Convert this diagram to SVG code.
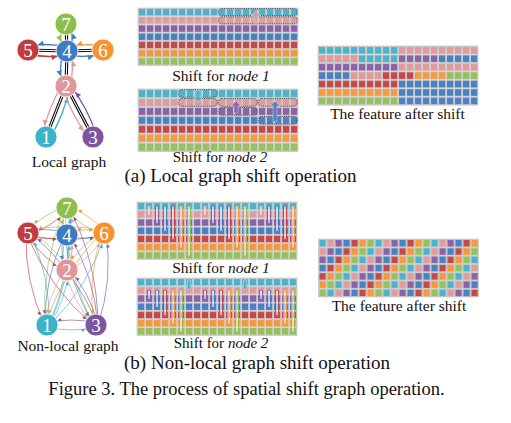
<svg xmlns="http://www.w3.org/2000/svg" xmlns:xlink="http://www.w3.org/1999/xlink" width="511" height="423" viewBox="0 0 511 423">
<style>
.bg{fill:#cdcdcd}
.c0{fill:#4ab4cc}.c1{fill:#e39a9e}.c2{fill:#8a62a8}.c3{fill:#4a80c4}.c4{fill:#c84848}.c5{fill:#f7993a}.c6{fill:#95c15a}
.f0{fill:#3cb1c8}.f1{fill:#e0979a}.f2{fill:#7c55a0}.f3{fill:#3d7cc3}.f4{fill:#c13d3d}.f5{fill:#f59332}.f6{fill:#8dbf4a}
.s0{stroke:#3cb1c8}.s1{stroke:#e0979a}.s2{stroke:#7c55a0}.s3{stroke:#3d7cc3}.s4{stroke:#c13d3d}.s5{stroke:#f59332}.s6{stroke:#8dbf4a}
.gb{fill:none;stroke:#bdbdbd;stroke-width:.6}
.dash{fill:none;stroke:#333;stroke-width:.8;stroke-dasharray:1.2 1}
.mk{fill:#fff;fill-opacity:.55;stroke-width:.9}
.ar{stroke:#fff;stroke-width:.5;stroke-opacity:.7;fill-opacity:.9}
.edge{stroke:#111;stroke-width:3.2;fill:none}
.edge2{stroke:#fff;stroke-width:1;fill:none}
.la{fill:none;stroke-width:1.3}
.na{fill:none;stroke-width:.75;stroke-opacity:.85}
.node{stroke:#fff;stroke-width:.8}
.nl{font-family:"Liberation Serif","Times New Roman",serif;font-size:19px;fill:#fff;text-anchor:middle}
.t{font-family:"Liberation Serif","Times New Roman",serif;fill:#111;text-anchor:middle}
</style>
<defs>
<pattern id="p0" width="8" height="8.2" patternUnits="userSpaceOnUse"><rect width="8" height="8.2" class="bg"/><rect x="1" y="1" width="6.2" height="6.4" class="c0"/></pattern>
<pattern id="p1" width="8" height="8.2" patternUnits="userSpaceOnUse"><rect width="8" height="8.2" class="bg"/><rect x="1" y="1" width="6.2" height="6.4" class="c1"/></pattern>
<pattern id="p2" width="8" height="8.2" patternUnits="userSpaceOnUse"><rect width="8" height="8.2" class="bg"/><rect x="1" y="1" width="6.2" height="6.4" class="c2"/></pattern>
<pattern id="p3" width="8" height="8.2" patternUnits="userSpaceOnUse"><rect width="8" height="8.2" class="bg"/><rect x="1" y="1" width="6.2" height="6.4" class="c3"/></pattern>
<pattern id="p4" width="8" height="8.2" patternUnits="userSpaceOnUse"><rect width="8" height="8.2" class="bg"/><rect x="1" y="1" width="6.2" height="6.4" class="c4"/></pattern>
<pattern id="p5" width="8" height="8.2" patternUnits="userSpaceOnUse"><rect width="8" height="8.2" class="bg"/><rect x="1" y="1" width="6.2" height="6.4" class="c5"/></pattern>
<pattern id="p6" width="8" height="8.2" patternUnits="userSpaceOnUse"><rect width="8" height="8.2" class="bg"/><rect x="1" y="1" width="6.2" height="6.4" class="c6"/></pattern>
<pattern id="pm" width="56" height="57.4" patternUnits="userSpaceOnUse">
<rect width="56" height="57.4" class="bg"/>
<g>
<rect x="1" y="1" width="6.2" height="6.4" class="c0"/><rect x="9" y="1" width="6.2" height="6.4" class="c1"/><rect x="17" y="1" width="6.2" height="6.4" class="c2"/><rect x="25" y="1" width="6.2" height="6.4" class="c3"/><rect x="33" y="1" width="6.2" height="6.4" class="c4"/><rect x="41" y="1" width="6.2" height="6.4" class="c5"/><rect x="49" y="1" width="6.2" height="6.4" class="c6"/>
<rect x="1" y="9.2" width="6.2" height="6.4" class="c1"/><rect x="9" y="9.2" width="6.2" height="6.4" class="c2"/><rect x="17" y="9.2" width="6.2" height="6.4" class="c3"/><rect x="25" y="9.2" width="6.2" height="6.4" class="c4"/><rect x="33" y="9.2" width="6.2" height="6.4" class="c5"/><rect x="41" y="9.2" width="6.2" height="6.4" class="c6"/><rect x="49" y="9.2" width="6.2" height="6.4" class="c0"/>
<rect x="1" y="17.4" width="6.2" height="6.4" class="c2"/><rect x="9" y="17.4" width="6.2" height="6.4" class="c3"/><rect x="17" y="17.4" width="6.2" height="6.4" class="c4"/><rect x="25" y="17.4" width="6.2" height="6.4" class="c5"/><rect x="33" y="17.4" width="6.2" height="6.4" class="c6"/><rect x="41" y="17.4" width="6.2" height="6.4" class="c0"/><rect x="49" y="17.4" width="6.2" height="6.4" class="c1"/>
<rect x="1" y="25.6" width="6.2" height="6.4" class="c3"/><rect x="9" y="25.6" width="6.2" height="6.4" class="c4"/><rect x="17" y="25.6" width="6.2" height="6.4" class="c5"/><rect x="25" y="25.6" width="6.2" height="6.4" class="c6"/><rect x="33" y="25.6" width="6.2" height="6.4" class="c0"/><rect x="41" y="25.6" width="6.2" height="6.4" class="c1"/><rect x="49" y="25.6" width="6.2" height="6.4" class="c2"/>
<rect x="1" y="33.8" width="6.2" height="6.4" class="c4"/><rect x="9" y="33.8" width="6.2" height="6.4" class="c5"/><rect x="17" y="33.8" width="6.2" height="6.4" class="c6"/><rect x="25" y="33.8" width="6.2" height="6.4" class="c0"/><rect x="33" y="33.8" width="6.2" height="6.4" class="c1"/><rect x="41" y="33.8" width="6.2" height="6.4" class="c2"/><rect x="49" y="33.8" width="6.2" height="6.4" class="c3"/>
<rect x="1" y="42" width="6.2" height="6.4" class="c5"/><rect x="9" y="42" width="6.2" height="6.4" class="c6"/><rect x="17" y="42" width="6.2" height="6.4" class="c0"/><rect x="25" y="42" width="6.2" height="6.4" class="c1"/><rect x="33" y="42" width="6.2" height="6.4" class="c2"/><rect x="41" y="42" width="6.2" height="6.4" class="c3"/><rect x="49" y="42" width="6.2" height="6.4" class="c4"/>
<rect x="1" y="50.2" width="6.2" height="6.4" class="c6"/><rect x="9" y="50.2" width="6.2" height="6.4" class="c0"/><rect x="17" y="50.2" width="6.2" height="6.4" class="c1"/><rect x="25" y="50.2" width="6.2" height="6.4" class="c2"/><rect x="33" y="50.2" width="6.2" height="6.4" class="c3"/><rect x="41" y="50.2" width="6.2" height="6.4" class="c4"/><rect x="49" y="50.2" width="6.2" height="6.4" class="c5"/>
</g>
</pattern>
<g id="base">
<rect y="0" width="160" height="8.2" fill="url(#p0)"/>
<rect y="8.2" width="160" height="8.2" fill="url(#p1)"/>
<rect y="16.4" width="160" height="8.2" fill="url(#p2)"/>
<rect y="24.6" width="160" height="8.2" fill="url(#p3)"/>
<rect y="32.8" width="160" height="8.2" fill="url(#p4)"/>
<rect y="41" width="160" height="8.2" fill="url(#p5)"/>
<rect y="49.2" width="160" height="8.2" fill="url(#p6)"/>
<rect class="gb" width="160" height="57.4"/>
</g>
<marker id="mL0" markerUnits="userSpaceOnUse" orient="auto" overflow="visible" markerWidth="1" markerHeight="1"><path class="f0" d="M-10.3,0 L-15.5,-2.7 L-15.5,2.7 Z"/></marker>
<marker id="mL1" markerUnits="userSpaceOnUse" orient="auto" overflow="visible" markerWidth="1" markerHeight="1"><path class="f1" d="M-10.3,0 L-15.5,-2.7 L-15.5,2.7 Z"/></marker>
<marker id="mL2" markerUnits="userSpaceOnUse" orient="auto" overflow="visible" markerWidth="1" markerHeight="1"><path class="f2" d="M-10.3,0 L-15.5,-2.7 L-15.5,2.7 Z"/></marker>
<marker id="mL3" markerUnits="userSpaceOnUse" orient="auto" overflow="visible" markerWidth="1" markerHeight="1"><path class="f3" d="M-10.3,0 L-15.5,-2.7 L-15.5,2.7 Z"/></marker>
<marker id="mL4" markerUnits="userSpaceOnUse" orient="auto" overflow="visible" markerWidth="1" markerHeight="1"><path class="f4" d="M-10.3,0 L-15.5,-2.7 L-15.5,2.7 Z"/></marker>
<marker id="mL5" markerUnits="userSpaceOnUse" orient="auto" overflow="visible" markerWidth="1" markerHeight="1"><path class="f5" d="M-10.3,0 L-15.5,-2.7 L-15.5,2.7 Z"/></marker>
<marker id="mL6" markerUnits="userSpaceOnUse" orient="auto" overflow="visible" markerWidth="1" markerHeight="1"><path class="f6" d="M-10.3,0 L-15.5,-2.7 L-15.5,2.7 Z"/></marker>
<marker id="mN0" markerUnits="userSpaceOnUse" orient="auto" overflow="visible" markerWidth="1" markerHeight="1"><path class="f0" d="M-10.8,0 L-14.5,-1.7 L-14.5,1.7 Z"/></marker>
<marker id="mN1" markerUnits="userSpaceOnUse" orient="auto" overflow="visible" markerWidth="1" markerHeight="1"><path class="f1" d="M-10.8,0 L-14.5,-1.7 L-14.5,1.7 Z"/></marker>
<marker id="mN2" markerUnits="userSpaceOnUse" orient="auto" overflow="visible" markerWidth="1" markerHeight="1"><path class="f2" d="M-10.8,0 L-14.5,-1.7 L-14.5,1.7 Z"/></marker>
<marker id="mN3" markerUnits="userSpaceOnUse" orient="auto" overflow="visible" markerWidth="1" markerHeight="1"><path class="f3" d="M-10.8,0 L-14.5,-1.7 L-14.5,1.7 Z"/></marker>
<marker id="mN4" markerUnits="userSpaceOnUse" orient="auto" overflow="visible" markerWidth="1" markerHeight="1"><path class="f4" d="M-10.8,0 L-14.5,-1.7 L-14.5,1.7 Z"/></marker>
<marker id="mN5" markerUnits="userSpaceOnUse" orient="auto" overflow="visible" markerWidth="1" markerHeight="1"><path class="f5" d="M-10.8,0 L-14.5,-1.7 L-14.5,1.7 Z"/></marker>
<marker id="mN6" markerUnits="userSpaceOnUse" orient="auto" overflow="visible" markerWidth="1" markerHeight="1"><path class="f6" d="M-10.8,0 L-14.5,-1.7 L-14.5,1.7 Z"/></marker>
</defs>
<rect width="511" height="423" fill="#fff"/>

<!-- Feature grids -->
<g id="grid-local-node1" transform="translate(138,8)">
<use xlink:href="#base" href="#base"/>
<rect class="dash" x="80.3" y="0.6" width="79" height="7" rx="3.5"/>
<rect class="dash" x="80.3" y="8.8" width="79" height="7" rx="3.5"/>
<path class="c1 ar" d="M118,3 L123,8 L120,8 L120,15 L116,15 L116,8 L113,8 Z"/>
</g>
<g id="grid-local-node2" transform="translate(138,89) scale(1,1.09)">
<use xlink:href="#base" href="#base"/>
<rect class="dash" x="40.3" y="0.6" width="39" height="7" rx="3.5"/>
<rect class="dash" x="40.3" y="8.8" width="39" height="7" rx="3.5"/>
<rect class="dash" x="80.3" y="8.8" width="39" height="7" rx="3.5"/>
<rect class="dash" x="80.3" y="17" width="39" height="7" rx="3.5"/>
<rect class="dash" x="120.3" y="8.8" width="39" height="7" rx="3.5"/>
<rect class="dash" x="120.3" y="25.2" width="39" height="7" rx="3.5"/>
<path class="c0 ar" d="M60,12 L55,7.5 L58,7.5 L58,1 L62,1 L62,7.5 L65,7.5 Z"/>
<path class="c2 ar" d="M98,11 L103,15.5 L100,15.5 L100,22 L96,22 L96,15.5 L93,15.5 Z"/>
<path class="c3 ar" d="M137,11 L142,15.5 L139,15.5 L139,30 L135,30 L135,15.5 L132,15.5 Z"/>
</g>
<g id="grid-local-after" transform="translate(318,46) scale(1,1.03)">
<rect x="0" y="0" width="80" height="8.2" fill="url(#p0)"/><rect x="80" y="0" width="80" height="8.2" fill="url(#p1)"/>
<rect x="0" y="8.2" width="40" height="8.2" fill="url(#p1)"/><rect x="40" y="8.2" width="40" height="8.2" fill="url(#p0)"/><rect x="80" y="8.2" width="40" height="8.2" fill="url(#p2)"/><rect x="120" y="8.2" width="40" height="8.2" fill="url(#p3)"/>
<rect x="0" y="16.4" width="80" height="8.2" fill="url(#p2)"/><rect x="80" y="16.4" width="80" height="8.2" fill="url(#p1)"/>
<rect x="0" y="24.6" width="32" height="8.2" fill="url(#p3)"/><rect x="32" y="24.6" width="32" height="8.2" fill="url(#p1)"/><rect x="64" y="24.6" width="32" height="8.2" fill="url(#p4)"/><rect x="96" y="24.6" width="32" height="8.2" fill="url(#p5)"/><rect x="128" y="24.6" width="32" height="8.2" fill="url(#p6)"/>
<rect x="0" y="32.8" width="80" height="8.2" fill="url(#p4)"/><rect x="80" y="32.8" width="80" height="8.2" fill="url(#p3)"/>
<rect x="0" y="41" width="80" height="8.2" fill="url(#p5)"/><rect x="80" y="41" width="80" height="8.2" fill="url(#p3)"/>
<rect x="0" y="49.2" width="80" height="8.2" fill="url(#p6)"/><rect x="80" y="49.2" width="80" height="8.2" fill="url(#p3)"/>
<rect class="gb" width="160" height="57.4"/>
</g>
<g id="grid-nonlocal-node1" transform="translate(137,202)">
<use xlink:href="#base" href="#base"/>
<rect class="mk s1" x="10.5" y="4" width="3" height="9.2" rx="1"/>
<rect class="mk s2" x="18.5" y="4" width="3" height="17.4" rx="1"/>
<rect class="mk s3" x="26.5" y="4" width="3" height="25.6" rx="1"/>
<rect class="mk s4" x="34.5" y="4" width="3" height="33.8" rx="1"/>
<rect class="mk s5" x="42.5" y="4" width="3" height="42" rx="1"/>
<rect class="mk s6" x="50.5" y="4" width="3" height="50.2" rx="1"/>
<rect class="mk s1" x="66.5" y="4" width="3" height="9.2" rx="1"/>
<rect class="mk s2" x="74.5" y="4" width="3" height="17.4" rx="1"/>
<rect class="mk s3" x="82.5" y="4" width="3" height="25.6" rx="1"/>
<rect class="mk s4" x="90.5" y="4" width="3" height="33.8" rx="1"/>
<rect class="mk s5" x="98.5" y="4" width="3" height="42" rx="1"/>
<rect class="mk s6" x="106.5" y="4" width="3" height="50.2" rx="1"/>
<rect class="mk s1" x="122.5" y="4" width="3" height="9.2" rx="1"/>
<rect class="mk s2" x="130.5" y="4" width="3" height="17.4" rx="1"/>
<rect class="mk s3" x="138.5" y="4" width="3" height="25.6" rx="1"/>
<rect class="mk s4" x="146.5" y="4" width="3" height="33.8" rx="1"/>
<rect class="mk s5" x="154.5" y="4" width="3" height="42" rx="1"/>
</g>
<g id="grid-nonlocal-node2" transform="translate(137,278)">
<use xlink:href="#base" href="#base"/>
<rect class="mk s2" x="10.5" y="12" width="3" height="9.4" rx="1"/>
<rect class="mk s3" x="18.5" y="12" width="3" height="17.6" rx="1"/>
<rect class="mk s4" x="26.5" y="12" width="3" height="25.8" rx="1"/>
<rect class="mk s5" x="34.5" y="12" width="3" height="34" rx="1"/>
<rect class="mk s6" x="42.5" y="12" width="3" height="42.2" rx="1"/>
<path class="c0 ar" d="M52,12 L48.5,8 L50.5,8 L50.5,2 L53.5,2 L53.5,8 L55.5,8 Z"/>
<rect class="mk s2" x="66.5" y="12" width="3" height="9.4" rx="1"/>
<rect class="mk s3" x="74.5" y="12" width="3" height="17.6" rx="1"/>
<rect class="mk s4" x="82.5" y="12" width="3" height="25.8" rx="1"/>
<rect class="mk s5" x="90.5" y="12" width="3" height="34" rx="1"/>
<rect class="mk s6" x="98.5" y="12" width="3" height="42.2" rx="1"/>
<path class="c0 ar" d="M108,12 L104.5,8 L106.5,8 L106.5,2 L109.5,2 L109.5,8 L111.5,8 Z"/>
<rect class="mk s2" x="122.5" y="12" width="3" height="9.4" rx="1"/>
<rect class="mk s3" x="130.5" y="12" width="3" height="17.6" rx="1"/>
<rect class="mk s4" x="138.5" y="12" width="3" height="25.8" rx="1"/>
<rect class="mk s5" x="146.5" y="12" width="3" height="34" rx="1"/>
<rect class="mk s6" x="154.5" y="12" width="3" height="42.2" rx="1"/>
</g>
<g id="grid-nonlocal-after" transform="translate(318.5,239) scale(1,1.01)">
<rect width="160" height="57.4" fill="url(#pm)"/>
<rect class="gb" width="160" height="57.4"/>
</g>

<!-- Connectors -->
<g id="connectors">
<g id="local-edges">
<line class="edge" x1="66" y1="24" x2="67" y2="51"/><line class="edge2" x1="66" y1="24" x2="67" y2="51"/>
<line class="edge" x1="28" y1="50" x2="67" y2="51"/><line class="edge2" x1="28" y1="50" x2="67" y2="51"/>
<line class="edge" x1="67" y1="51" x2="103" y2="50"/><line class="edge2" x1="67" y1="51" x2="103" y2="50"/>
<line class="edge" x1="67" y1="51" x2="66" y2="86"/><line class="edge2" x1="67" y1="51" x2="66" y2="86"/>
<line class="edge" x1="66" y1="86" x2="46" y2="137"/><line class="edge2" x1="66" y1="86" x2="46" y2="137"/>
<line class="edge" x1="66" y1="86" x2="93" y2="137"/><line class="edge2" x1="66" y1="86" x2="93" y2="137"/>
</g>
<g id="local-arrows">
<path class="la s6" marker-end="url(#mL6)" d="M62,24.15 Q59.2,37.8 63,51.15"/>
<path class="la s3" marker-end="url(#mL3)" d="M71,50.85 Q73.8,37.2 70,23.85"/>
<path class="la s4" marker-end="url(#mL4)" d="M27.9,54 Q47.3,58.45 66.9,55"/>
<path class="la s3" marker-end="url(#mL3)" d="M67.1,47 Q47.7,42.55 28.1,46"/>
<path class="la s3" marker-end="url(#mL3)" d="M67.1,55 Q85.2,58.3 103.1,54"/>
<path class="la s5" marker-end="url(#mL5)" d="M102.9,46 Q84.8,42.7 66.9,47"/>
<path class="la s3" marker-end="url(#mL3)" d="M63,50.9 Q58.75,68.3 62,85.9"/>
<path class="la s1" marker-end="url(#mL1)" d="M70,86.1 Q74.25,68.7 71,51.1"/>
<path class="la s1" marker-end="url(#mL1)" d="M62.3,84.5 Q47.9,108.3 42.3,135.5"/>
<path class="la s0" marker-end="url(#mL0)" d="M49.7,138.5 Q64.1,114.7 69.7,87.5"/>
<path class="la s1" marker-end="url(#mL1)" d="M62.5,87.9 Q71.6,115.7 89.5,138.9"/>
<path class="la s2" marker-end="url(#mL2)" d="M96.5,135.1 Q87.4,107.3 69.5,84.1"/>
</g>
<g id="nonlocal-arrows">
<path class="na s6" marker-end="url(#mN6)" d="M65.9,206.3 Q43.4,214.1 26.9,231.3"/>
<path class="na s4" marker-end="url(#mN4)" d="M29.1,234.7 Q51.6,226.9 68.1,209.7"/>
<path class="na s6" marker-end="url(#mN6)" d="M65,208 Q61.8,221.5 65,235"/>
<path class="na s3" marker-end="url(#mN3)" d="M69,235 Q72.2,221.5 69,208"/>
<path class="na s6" marker-end="url(#mN6)" d="M65.9,209.7 Q81.4,226.6 102.9,234.7"/>
<path class="na s5" marker-end="url(#mN5)" d="M105.1,231.3 Q89.6,214.4 68.1,206.3"/>
<path class="na s6" marker-end="url(#mN6)" d="M65,208 Q57.6,239 65,270"/>
<path class="na s1" marker-end="url(#mN1)" d="M69,270 Q76.4,239 69,208"/>
<path class="na s6" marker-end="url(#mN6)" d="M65,207.7 Q41,263.8 45,324.7"/>
<path class="na s0" marker-end="url(#mN0)" d="M49,325.3 Q73,269.2 69,208.3"/>
<path class="na s6" marker-end="url(#mN6)" d="M65.1,208.5 Q65.5,270.5 94.1,325.5"/>
<path class="na s2" marker-end="url(#mN2)" d="M97.9,324.5 Q97.5,262.5 68.9,207.5"/>
<path class="na s4" marker-end="url(#mN4)" d="M27.9,235 Q47.2,240.7 66.9,237"/>
<path class="na s3" marker-end="url(#mN3)" d="M67.1,233 Q47.8,227.3 28.1,231"/>
<path class="na s4" marker-end="url(#mN4)" d="M28,235 Q66,244.1 104,235"/>
<path class="na s5" marker-end="url(#mN5)" d="M104,231 Q66,221.9 28,231"/>
<path class="na s4" marker-end="url(#mN4)" d="M26.6,234.5 Q41.7,257.6 65.6,271.5"/>
<path class="na s1" marker-end="url(#mN1)" d="M68.4,268.5 Q53.3,245.4 29.4,231.5"/>
<path class="na s4" marker-end="url(#mN4)" d="M26,233.4 Q24.5,281.7 45,325.4"/>
<path class="na s0" marker-end="url(#mN0)" d="M49,324.6 Q50.5,276.3 30,232.6"/>
<path class="na s4" marker-end="url(#mN4)" d="M26.4,234.2 Q49.4,288.3 94.4,326.2"/>
<path class="na s2" marker-end="url(#mN2)" d="M97.6,323.8 Q74.6,269.7 29.6,231.8"/>
<path class="na s3" marker-end="url(#mN3)" d="M67.1,237 Q85.8,240.4 104.1,235"/>
<path class="na s5" marker-end="url(#mN5)" d="M103.9,231 Q85.2,227.6 66.9,233"/>
<path class="na s3" marker-end="url(#mN3)" d="M65,235 Q60.8,252.5 65,270"/>
<path class="na s1" marker-end="url(#mN1)" d="M69,270 Q73.2,252.5 69,235"/>
<path class="na s3" marker-end="url(#mN3)" d="M65,234.6 Q44.3,277.2 45,324.6"/>
<path class="na s0" marker-end="url(#mN0)" d="M49,325.4 Q69.7,282.8 69,235.4"/>
<path class="na s3" marker-end="url(#mN3)" d="M65.1,235.6 Q68.8,284.1 94.1,325.6"/>
<path class="na s2" marker-end="url(#mN2)" d="M97.9,324.4 Q94.2,275.9 68.9,234.4"/>
<path class="na s5" marker-end="url(#mN5)" d="M102.6,231.6 Q79.6,245.6 65.6,268.6"/>
<path class="na s1" marker-end="url(#mN1)" d="M68.4,271.4 Q91.4,257.4 105.4,234.4"/>
<path class="na s5" marker-end="url(#mN5)" d="M102.3,231.9 Q62.8,271.1 45.3,323.9"/>
<path class="na s0" marker-end="url(#mN0)" d="M48.7,326.1 Q88.2,286.9 105.7,234.1"/>
<path class="na s5" marker-end="url(#mN5)" d="M102,232.8 Q87,277.9 94,324.8"/>
<path class="na s2" marker-end="url(#mN2)" d="M98,325.2 Q113,280.1 106,233.2"/>
<path class="na s1" marker-end="url(#mN1)" d="M65.1,269.3 Q48.5,294.4 45.1,324.3"/>
<path class="na s0" marker-end="url(#mN0)" d="M48.9,325.7 Q65.5,300.6 68.9,270.7"/>
<path class="na s1" marker-end="url(#mN1)" d="M65.2,270.9 Q73.1,301.9 94.2,325.9"/>
<path class="na s2" marker-end="url(#mN2)" d="M97.8,324.1 Q89.9,293.1 68.8,269.1"/>
<path class="na s0" marker-end="url(#mN0)" d="M47,327 Q71.5,332.9 96,327"/>
<path class="na s2" marker-end="url(#mN2)" d="M96,323 Q71.5,317.1 47,323"/>
</g>
</g>

<!-- Local graph nodes -->
<g id="local-node-7"><circle class="node f6" cx="66" cy="24" r="11"/><text class="nl" x="66" y="30.5">7</text></g>
<g id="local-node-5"><circle class="node f4" cx="28" cy="50" r="11"/><text class="nl" x="28" y="56.5">5</text></g>
<g id="local-node-4"><circle class="node f3" cx="67" cy="51" r="11"/><text class="nl" x="67" y="57.5">4</text></g>
<g id="local-node-6"><circle class="node f5" cx="103" cy="50" r="11"/><text class="nl" x="103" y="56.5">6</text></g>
<g id="local-node-2"><circle class="node f1" cx="66" cy="86" r="11"/><text class="nl" x="66" y="92.5">2</text></g>
<g id="local-node-1"><circle class="node f0" cx="46" cy="137" r="11"/><text class="nl" x="46" y="143.5">1</text></g>
<g id="local-node-3"><circle class="node f2" cx="93" cy="137" r="11"/><text class="nl" x="93" y="143.5">3</text></g>

<!-- Non-local graph nodes -->
<g id="nonlocal-node-7"><circle class="node f6" cx="67" cy="208" r="11"/><text class="nl" x="67" y="214.5">7</text></g>
<g id="nonlocal-node-5"><circle class="node f4" cx="28" cy="233" r="11"/><text class="nl" x="28" y="239.5">5</text></g>
<g id="nonlocal-node-4"><circle class="node f3" cx="67" cy="235" r="11"/><text class="nl" x="67" y="241.5">4</text></g>
<g id="nonlocal-node-6"><circle class="node f5" cx="104" cy="233" r="11"/><text class="nl" x="104" y="239.5">6</text></g>
<g id="nonlocal-node-2"><circle class="node f1" cx="67" cy="270" r="11"/><text class="nl" x="67" y="276.5">2</text></g>
<g id="nonlocal-node-1"><circle class="node f0" cx="47" cy="325" r="11"/><text class="nl" x="47" y="331.5">1</text></g>
<g id="nonlocal-node-3"><circle class="node f2" cx="96" cy="325" r="11"/><text class="nl" x="96" y="331.5">3</text></g>

<!-- Labels -->
<g id="labels">
<text class="t" x="69" y="167" font-size="15.5">Local graph</text>
<text class="t" x="221" y="81" font-size="15.5">Shift for <tspan font-style="italic">node 1</tspan></text>
<text class="t" x="220" y="162" font-size="15">Shift for <tspan font-style="italic">node 2</tspan></text>
<text class="t" x="397.5" y="119" font-size="15.5">The feature after shift</text>
<text class="t" x="240.5" y="181.5" font-size="19">(a) Local graph shift operation</text>
<text class="t" x="68" y="351" font-size="15.5">Non-local graph</text>
<text class="t" x="221" y="273" font-size="15.5">Shift for <tspan font-style="italic">node 1</tspan></text>
<text class="t" x="221" y="347.5" font-size="15">Shift for <tspan font-style="italic">node 2</tspan></text>
<text class="t" x="399" y="311" font-size="15.5">The feature after shift</text>
<text class="t" x="257" y="368.5" font-size="19">(b) Non-local graph shift operation</text>
<text class="t" x="246.5" y="395" font-size="18.5">Figure 3. The process of spatial shift graph operation.</text>
</g>
</svg>
